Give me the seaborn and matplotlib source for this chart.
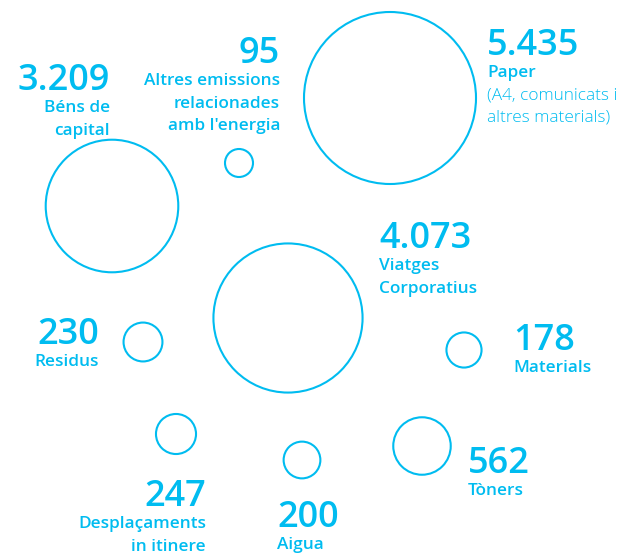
import matplotlib
matplotlib.use("Agg")
import matplotlib.pyplot as plt
import seaborn as sns
import pandas as pd

# Emission sources (tCO2e) and their labels
categories = ["Paper", "Viatges Corporatius", "Béns de capital", "Tòners",
              "Desplaçaments in itinere", "Residus", "Aigua", "Materials",
              "Altres emissions relacionades amb l'energia"]
values = [5435, 4073, 3209, 562, 247, 230, 200, 178, 95]
label_lines = [
    ["Paper"],
    ["Viatges", "Corporatius"],
    ["Béns de", "capital"],
    ["Tòners"],
    ["Desplaçaments", "in itinere"],
    ["Residus"],
    ["Aigua"],
    ["Materials"],
    ["Altres emissions", "relacionades", "amb l'energia"],
]
paper_note = ["(A4, comunicats i", "altres materials)"]

# Layout: bubble centres and label anchors (pixel space, y downward)
bubble_x = [390, 288, 112, 422, 176, 143, 302, 464, 239]
bubble_y = [98, 318, 206, 446, 434, 342, 460, 350, 163]
label_x = [487, 379, 110, 468, 206, 99, 277, 513, 280]
label_y = [55, 248, 90, 473, 506, 344, 527, 350, 63]
label_ha = ["left", "left", "right", "left", "right", "right", "left", "left", "right"]

CYAN = "#00BCF0"
W, H = 622, 554

sns.set_theme(style="white")
plt.rcParams["font.family"] = ["Open Sans", "DejaVu Sans"]

fig = plt.figure(figsize=(W / 100, H / 100), dpi=100)
ax = fig.add_axes([0, 0, 1, 1])

df = pd.DataFrame({"x": bubble_x, "y": bubble_y, "value": values, "category": categories})

# Bubble area grows linearly with the value
r_min, r_max = 14, 86
s_min, s_max = (2 * r_min * 0.72) ** 2, (2 * r_max * 0.72) ** 2
sns.scatterplot(data=df, x="x", y="y", size="value", sizes=(s_min, s_max),
                size_norm=(min(values), max(values)), legend=False, ax=ax,
                marker="o", clip_on=False)
coll = ax.collections[0]
coll.set_facecolor("none")
coll.set_edgecolor(CYAN)
coll.set_linewidth(1.5)

ax.set_xlim(0, W)
ax.set_ylim(H, 0)
ax.set_axis_off()

NUM_SIZE = 26
LAB_SIZE = 12.4
STEP = 22.3

def fmt(v):
    return f"{v:,}".replace(",", ".")

for i, v in enumerate(values):
    x, y, ha = label_x[i], label_y[i], label_ha[i]
    ax.text(x, y, fmt(v), ha=ha, va="baseline", fontsize=NUM_SIZE,
            fontweight="semibold", color=CYAN)
    yy = y
    for line in label_lines[i]:
        yy += STEP
        ax.text(x, yy, line, ha=ha, va="baseline", fontsize=LAB_SIZE,
                fontweight="semibold", color=CYAN)
    if categories[i] == "Paper":
        for line in paper_note:
            yy += STEP
            ax.text(x, yy, line, ha=ha, va="baseline", fontsize=LAB_SIZE,
                    fontweight="light", color=CYAN)

fig.savefig("out.png", dpi=100)
